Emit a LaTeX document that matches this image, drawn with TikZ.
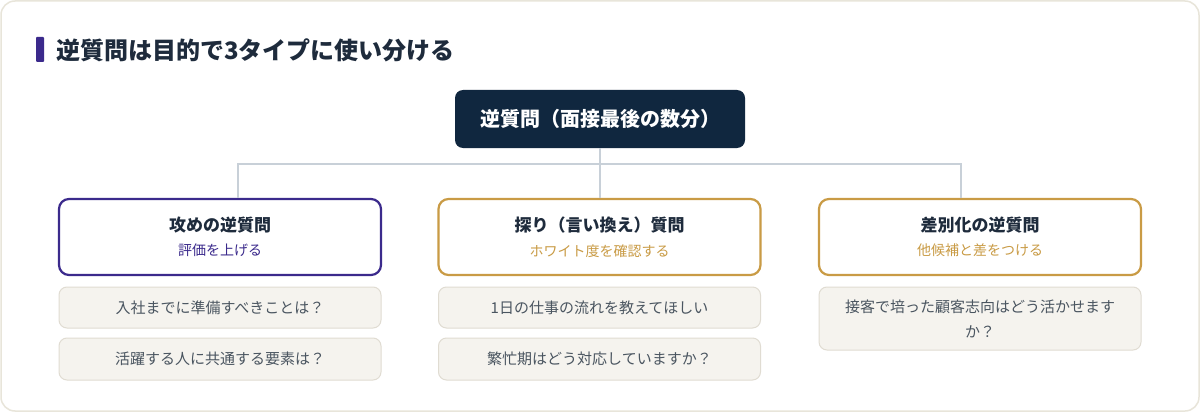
\documentclass[tikz,border=0pt]{standalone}
\usepackage{fontspec}
\setmainfont{Noto Sans CJK JP}
\usepackage{tikz}
\usetikzlibrary{positioning,calc}
\definecolor{navy}{HTML}{10273F}
\definecolor{ink}{HTML}{1E2B3C}
\definecolor{violet}{HTML}{3B2A8C}
\definecolor{gold}{HTML}{C99B45}
\definecolor{wire}{HTML}{C8D0D8}
\definecolor{paper}{HTML}{F5F3EE}
\definecolor{edge}{HTML}{E0DCD2}
\definecolor{frame}{HTML}{E8E5DA}
\definecolor{grayink}{HTML}{4A5560}
\tikzset{
  root/.style={fill=navy,rounded corners=8pt,minimum width=290pt,minimum height=58pt,
    text=white,font=\fontsize{20pt}{24pt}\selectfont\bfseries},
  typebox/.style={draw=#1,line width=2.2pt,fill=white,rounded corners=10pt,
    minimum width=322pt,minimum height=76pt,align=center},
  item/.style={draw=edge,line width=1pt,fill=paper,rounded corners=8pt,
    minimum width=322pt,align=center,text=grayink,font=\fontsize{15pt}{25pt}\selectfont},
  link/.style={draw=wire,line width=2pt},
}
\newcommand{\typetitle}[3]{{\fontsize{17pt}{20pt}\selectfont\bfseries\color{ink}#1}\\[10pt]{\fontsize{14pt}{16pt}\selectfont\color{#3}#2}}

\begin{document}
\begin{tikzpicture}[x=1pt,y=-1pt]
\useasboundingbox (0,0) rectangle (1200,412);
\fill[white] (0,0) rectangle (1200,412);
\draw[frame,line width=1.5pt,fill=white,rounded corners=14pt] (1,1) rectangle (1199,411);
% title
\fill[violet,rounded corners=1pt] (36,37) rectangle (44,62);
\node[anchor=west,text=ink,font=\fontsize{24pt}{28pt}\selectfont\bfseries,inner sep=0pt] (title) at (56,50) {逆質問は目的で3タイプに使い分ける};
% root
\node[root] (top) at (600,119) {逆質問（面接最後の数分）};
% three types
\node[typebox=violet] (atk) at (220,237) {\typetitle{攻めの逆質問}{評価を上げる}{violet}};
\node[typebox=gold] (probe) at (599.5,237) {\typetitle{探り（言い換え）質問}{ホワイト度を確認する}{gold}};
\node[typebox=gold] (diff) at (980,237) {\typetitle{差別化の逆質問}{他候補と差をつける}{gold}};
% tree lines
\coordinate (bus) at (600,164);
\coordinate (lt) at (238,164);
\coordinate (rt) at (961,164);
\draw[link] (top.south) -- (bus);
\draw[link] (lt |- atk.north) -- (lt) -- (rt) -- (rt |- diff.north);
\draw[link] (bus) -- (bus |- probe.north);
% examples
\node[item,minimum height=41pt] (atk1) at (220,307.5) {入社までに準備すべきことは？};
\node[item,minimum height=42pt] (atk2) at (220,359) {活躍する人に共通する要素は？};
\node[item,minimum height=41pt] (probe1) at (599.5,307.5) {1日の仕事の流れを教えてほしい};
\node[item,minimum height=42pt] (probe2) at (599.5,359) {繁忙期はどう対応していますか？};
\node[item,minimum height=63pt] (diff1) at (980,318.5) {接客で培った顧客志向はどう活かせます\\か？};
\end{tikzpicture}
\end{document}
